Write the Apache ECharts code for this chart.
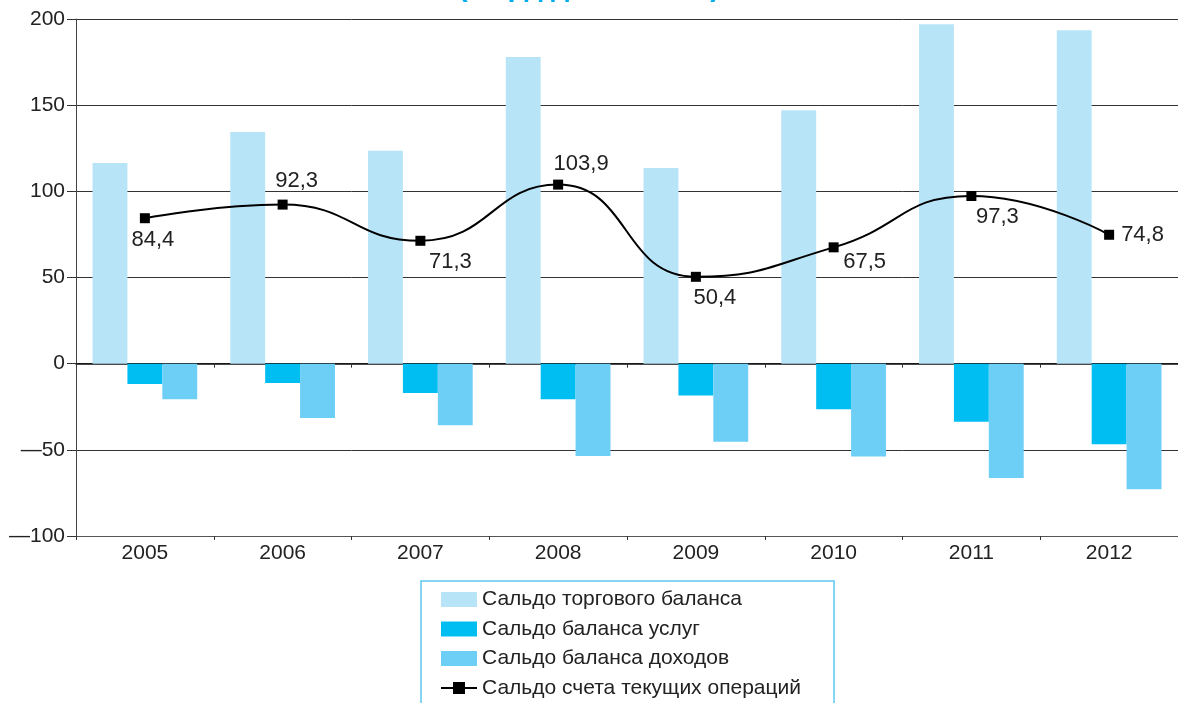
<!DOCTYPE html>
<html>
<head>
<meta charset="utf-8">
<script src="https://cdn.jsdelivr.net/npm/echarts@6/dist/echarts.min.js"></script>
<style>
  html, body { margin: 0; padding: 0; background: #fff; }
  #chart { width: 1178px; height: 703px; }
</style>
</head>
<body>
<div id="chart"></div>
<script>
// данные
var years = ['2005', '2006', '2007', '2008', '2009', '2010', '2011', '2012'];
var tradeBalance = [116.5, 134.5, 123.5, 178, 113.5, 147, 197, 193.5];
var servicesBalance = [-11.8, -11.2, -17, -20.7, -18.4, -26.4, -33.7, -46.8];
var incomeBalance = [-20.7, -31.5, -35.8, -53.6, -45.3, -53.8, -66.3, -72.9];
var currentAccount = [84.4, 92.3, 71.3, 103.9, 50.4, 67.5, 97.3, 74.8];

// где стоят подписи точек линии
var labelPlace = [
  ['bottom', [8, 1]], ['top', [14, -3]], ['bottom', [30, 0]], ['top', [23, 0]],
  ['bottom', [19, 0]], ['bottom', [31, -6]], ['bottom', [26, 0]], ['right', [2, 0]]
];

var font = "'Liberation Sans', Arial, sans-serif";
var chart = echarts.init(document.getElementById('chart'));

var lineData = currentAccount.map(function (v, i) {
  return {
    value: v,
    label: { position: labelPlace[i][0], offset: labelPlace[i][1] }
  };
});

var option = {
  animation: false,
  textStyle: { fontFamily: font },
  title: {
    text: '(млрд долл. США)',
    left: 'center',
    top: -32,
    textStyle: { color: '#00aeef', fontSize: 29, fontWeight: 'bold', fontFamily: font }
  },
  legend: {
    orient: 'vertical',
    left: 421,
    top: 581,
    height: 160,
    padding: [8, 33, 40, 19],
    itemGap: 8.5,
    itemWidth: 36,
    itemHeight: 15,
    borderColor: '#5bc8f0',
    borderWidth: 1.5,
    selectedMode: false,
    textStyle: { fontSize: 21, color: '#222', fontFamily: font },
    data: [
      { name: 'Сальдо торгового баланса', icon: 'rect' },
      { name: 'Сальдо баланса услуг', icon: 'rect' },
      { name: 'Сальдо баланса доходов', icon: 'rect' },
      { name: 'Сальдо счета текущих операций' }
    ]
  },
  grid: { left: 76, top: 19, width: 1104, height: 517 },
  xAxis: [
    {
      type: 'category',
      data: years,
      position: 'bottom',
      axisLine: { onZero: true, lineStyle: { color: '#111', width: 1.5 } },
      axisTick: { show: true, length: 4, lineStyle: { color: '#333' } },
      axisLabel: { show: false }
    },
    {
      type: 'category',
      data: years,
      position: 'bottom',
      axisLine: { onZero: false, lineStyle: { color: '#555' } },
      axisTick: { show: true, length: 4, lineStyle: { color: '#333' } },
      axisLabel: { fontSize: 21, color: '#222', margin: 7, fontFamily: font }
    }
  ],
  yAxis: {
    type: 'value',
    min: -100,
    max: 200,
    interval: 50,
    axisLine: { show: true, lineStyle: { color: '#444' } },
    axisTick: { show: true, length: 9, lineStyle: { color: '#333' } },
    axisLabel: {
      fontSize: 21, color: '#222', margin: 11, fontFamily: font,
      formatter: function (v) { return v < 0 ? '\u2014' + Math.abs(v) : String(v); }
    },
    splitLine: { lineStyle: { color: '#333', width: 1 } }
  },
  series: [
    {
      name: 'Сальдо торгового баланса',
      type: 'bar',
      barGap: 0,
      barCategoryGap: '24%',
      itemStyle: { color: '#b8e4f8' },
      data: tradeBalance
    },
    {
      name: 'Сальдо баланса услуг',
      type: 'bar',
      barGap: 0,
      barCategoryGap: '24%',
      itemStyle: { color: '#00bdf2' },
      data: servicesBalance
    },
    {
      name: 'Сальдо баланса доходов',
      type: 'bar',
      barGap: 0,
      barCategoryGap: '24%',
      itemStyle: { color: '#6dcff6' },
      data: incomeBalance
    },
    {
      name: 'Сальдо счета текущих операций',
      type: 'line',
      smooth: 0.5,
      z: 5,
      symbol: 'rect',
      symbolSize: 10,
      lineStyle: { color: '#000', width: 2 },
      itemStyle: { color: '#000' },
      label: {
        show: true,
        fontSize: 22,
        color: '#222',
        fontFamily: font,
        formatter: function (p) { return String(p.value).replace('.', ','); }
      },
      data: lineData
    }
  ]
};

chart.setOption(option);
</script>
</body>
</html>
